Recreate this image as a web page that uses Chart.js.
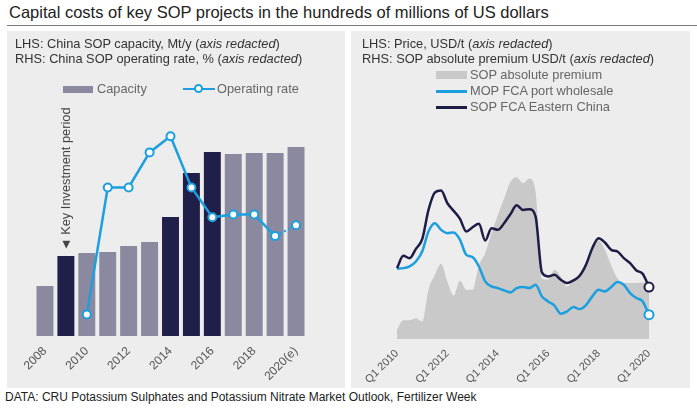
<!DOCTYPE html>
<html>
<head>
<meta charset="utf-8">
<title>SOP capacity and prices</title>
<script src="https://cdn.jsdelivr.net/npm/chart.js@4.4.0/dist/chart.umd.min.js"></script>
<style>
  body { margin: 0; width: 697px; height: 409px; background: #fff; position: relative; overflow: hidden;
         font-family: "Liberation Sans", Arial, sans-serif; }
  .title { position: absolute; left: 9px; top: 2px; font-size: 16.5px; line-height: 20px; color: #222; white-space: nowrap; }
  .rule { position: absolute; left: 7px; right: 0; top: 25px; height: 1px; background: #7a7a7a; }
  .panel { position: absolute; top: 31px; height: 357px; background: #ededed; }
  #leftPanel { left: 7px; width: 338px; }
  #rightPanel { left: 351px; width: 339px; }
  .panel canvas { position: absolute; left: 0; top: 0; }
  .note { position: absolute; font-size: 12.8px; line-height: 15px; color: #333; white-space: nowrap; }
  .legend-text { position: absolute; font-size: 12.8px; line-height: 14px; color: #666; white-space: nowrap; }
  .swatch { position: absolute; }
  .dot { position: absolute; width: 5px; height: 5px; border-radius: 50%; background: #fff; border: 2px solid #1b9fdf; }
  #keyLabel { position: absolute; font-size: 12.8px; line-height: 14px; color: #444; white-space: nowrap;
              transform-origin: 0 0; transform: rotate(-90deg); }
  .footer { position: absolute; left: 5px; top: 390px; font-size: 12px; line-height: 14px; color: #222; white-space: nowrap; }
</style>
</head>
<body>
<div class="title">Capital costs of key SOP projects in the hundreds of millions of US dollars</div>
<div class="rule"></div>

<div class="panel" id="leftPanel">
  <canvas id="capacityChart" width="338" height="357"></canvas>
  <div class="note" style="left:8px; top:5px;">LHS: China SOP capacity, Mt/y (<i>axis redacted</i>)<br>RHS: China SOP operating rate, % (<i>axis redacted</i>)</div>
  <div class="swatch" style="left:56px; top:55px; width:30px; height:7px; background:#8a89a0;"></div>
  <div class="legend-text" style="left:90px; top:51px;">Capacity</div>
  <div class="swatch" style="left:176px; top:57px; width:32px; height:2px; background:#1b9fdf;"></div>
  <div class="dot" style="left:187px; top:53px;"></div>
  <div class="legend-text" style="left:210px; top:51px;">Operating rate</div>
  <div id="keyLabel">&#9668; Key Investment period</div>
</div>

<div class="panel" id="rightPanel">
  <canvas id="priceChart" width="339" height="357"></canvas>
  <div class="note" style="left:11px; top:5px;">LHS: Price, USD/t (<i>axis redacted</i>)<br>RHS: SOP absolute premium USD/t (<i>axis redacted</i>)</div>
  <div class="swatch" style="left:85px; top:40px; width:31px; height:8px; background:#c9c9c9;"></div>
  <div class="legend-text" style="left:119px; top:37px;">SOP absolute premium</div>
  <div class="swatch" style="left:85px; top:59px; width:31px; height:2.5px; background:#1b9fdf;"></div>
  <div class="legend-text" style="left:119px; top:53px;">MOP FCA port wholesale</div>
  <div class="swatch" style="left:85px; top:75px; width:31px; height:2.5px; background:#1d1d45;"></div>
  <div class="legend-text" style="left:119px; top:69px;">SOP FCA Eastern China</div>
</div>

<div class="footer">DATA: CRU Potassium Sulphates and Potassium Nitrate Market Outlook, Fertilizer Week</div>

<script>
// Left panel data
const years = ['2008', '2009', '2010', '2011', '2012', '2013', '2014', '2015', '2016', '2017', '2018', '2019', '2020(e)'];
const yearTicks = ['2008', '2010', '2012', '2014', '2016', '2018', '2020(e)'];
const capacity = [2.5, 4.0, 4.15, 4.2, 4.5, 4.7, 5.95, 8.15, 9.2, 9.1, 9.15, 9.15, 9.45];
const keyPeriod = [false, true, false, false, false, false, true, true, true, false, false, false, false];
const operatingRate = [null, null, 28, 75, 75, 88, 94, 75, 64, 65, 65, 57, 61];

// Right panel data
const quarters = [
    'Q1 2010', 'Q2 2010', 'Q3 2010', 'Q4 2010', 'Q1 2011', 'Q2 2011', 'Q3 2011', 'Q4 2011',
    'Q1 2012', 'Q2 2012', 'Q3 2012', 'Q4 2012', 'Q1 2013', 'Q2 2013', 'Q3 2013', 'Q4 2013',
    'Q1 2014', 'Q2 2014', 'Q3 2014', 'Q4 2014', 'Q1 2015', 'Q2 2015', 'Q3 2015', 'Q4 2015',
    'Q1 2016', 'Q2 2016', 'Q3 2016', 'Q4 2016', 'Q1 2017', 'Q2 2017', 'Q3 2017', 'Q4 2017',
    'Q1 2018', 'Q2 2018', 'Q3 2018', 'Q4 2018', 'Q1 2019', 'Q2 2019', 'Q3 2019', 'Q4 2019',
    'Q1 2020'
];
const quarterTicks = ['Q1 2010', 'Q1 2012', 'Q1 2014', 'Q1 2016', 'Q1 2018', 'Q1 2020'];
const sopPrice = [345, 382, 375, 403, 432, 520, 572, 578, 540, 517, 493, 455, 468, 478, 428, 465,
    460, 480, 507, 534, 520, 522, 500, 332, 320, 325, 310, 300, 308, 322, 355, 405,
    435, 422, 400, 395, 375, 360, 338, 328, 288];
const mopPrice = [343, 345, 350, 365, 395, 455, 480, 460, 450, 452, 430, 385, 378, 350, 305, 290,
    285, 278, 272, 285, 288, 285, 295, 260, 245, 232, 208, 215, 228, 222, 234, 260,
    280, 275, 288, 303, 295, 270, 255, 245, 205];
const sopPremium = [14, 28, 28, 31, 26, 74, 96, 113, 86, 65, 88, 74, 74, 111, 129, 159,
    186, 211, 236, 243, 234, 241, 221, 91, 89, 104, 94, 79, 89, 99, 116, 134,
    148, 134, 111, 91, 84, 84, 84, 85, 85];

const lightBar = '#8a89a0';
const darkBar = '#1f1f4a';
const blue = '#1b9fdf';
const navy = '#1d1d45';
const tickColor = '#555';

// Place the rotated "Key Investment period" note above the 2009 bar
const keyLabelPlugin = {
    id: 'keyLabel',
    afterDraw(chart) {
        const el = document.getElementById('keyLabel');
        const x = chart.scales.x.getPixelForValue(1);
        const y = chart.scales.y.getPixelForValue(capacity[1]);
        el.style.left = (x - el.offsetHeight / 2) + 'px';
        el.style.top = (y - 5) + 'px';
    }
};

new Chart(document.getElementById('capacityChart'), {
    data: {
        labels: years,
        datasets: [{
            type: 'line',
            label: 'Operating rate',
            data: operatingRate,
            yAxisID: 'y1',
            borderColor: blue,
            borderWidth: 2.5,
            tension: 0,
            pointRadius: 4,
            pointBorderWidth: 2,
            pointBackgroundColor: '#fff',
            pointBorderColor: blue,
            clip: false,
            order: 0,
            segment: {
                borderDash: ctx => ctx.p1DataIndex === years.length - 1 ? [2, 3] : undefined
            }
        }, {
            type: 'bar',
            label: 'Capacity',
            data: capacity,
            yAxisID: 'y',
            backgroundColor: keyPeriod.map(k => k ? darkBar : lightBar),
            barPercentage: 0.81,
            categoryPercentage: 1,
            order: 1
        }]
    },
    options: {
        responsive: false,
        animation: false,
        events: [],
        layout: { padding: { top: 89, left: 27.5, right: 38.5, bottom: 0 } },
        plugins: {
            legend: { display: false },
            tooltip: { enabled: false }
        },
        scales: {
            x: {
                offset: true,
                grid: { display: false, drawTicks: false },
                border: { display: false },
                ticks: {
                    color: tickColor,
                    font: { family: 'Liberation Sans', size: 12 },
                    autoSkip: false,
                    minRotation: 45,
                    maxRotation: 45,
                    padding: 8,
                    callback: (value, index) => yearTicks.includes(years[index]) ? years[index] : ''
                },
                afterFit: scale => { scale.height = 52; }
            },
            y: { display: false, min: 0, max: 10.8 },
            y1: { display: false, min: 20, max: 100 }
        }
    },
    plugins: [keyLabelPlugin]
});

const lastPointOnly = ctx => ctx.dataIndex === quarters.length - 1 ? 4.5 : 0;

new Chart(document.getElementById('priceChart'), {
    type: 'line',
    data: {
        labels: quarters,
        datasets: [{
            label: 'SOP FCA Eastern China',
            data: sopPrice,
            yAxisID: 'y',
            borderColor: navy,
            borderWidth: 2.5,
            cubicInterpolationMode: 'monotone',
            pointRadius: lastPointOnly,
            pointBorderWidth: 2,
            pointBackgroundColor: '#fff',
            pointBorderColor: navy,
            fill: false,
            clip: false,
            order: 1
        }, {
            label: 'MOP FCA port wholesale',
            data: mopPrice,
            yAxisID: 'y',
            borderColor: blue,
            borderWidth: 2.5,
            cubicInterpolationMode: 'monotone',
            pointRadius: lastPointOnly,
            pointBorderWidth: 2,
            pointBackgroundColor: '#fff',
            pointBorderColor: blue,
            fill: false,
            clip: false,
            order: 2
        }, {
            label: 'SOP absolute premium',
            data: sopPremium,
            yAxisID: 'y2',
            borderWidth: 0,
            backgroundColor: '#c9c9c9',
            cubicInterpolationMode: 'monotone',
            pointRadius: 0,
            fill: 'start',
            order: 3
        }]
    },
    options: {
        responsive: false,
        animation: false,
        events: [],
        layout: { padding: { top: 119, left: 46, right: 41, bottom: 0 } },
        plugins: {
            legend: { display: false },
            tooltip: { enabled: false }
        },
        scales: {
            x: {
                grid: { display: false, drawTicks: false },
                border: { display: false },
                ticks: {
                    color: tickColor,
                    font: { family: 'Liberation Sans', size: 11 },
                    autoSkip: false,
                    minRotation: 45,
                    maxRotation: 45,
                    padding: 8,
                    callback: (value, index) => quarterTicks.includes(quarters[index]) ? quarters[index] : ''
                },
                afterFit: scale => { scale.height = 49; }
            },
            y: { display: false, min: 132, max: 700 },
            y2: { display: false, min: 0, max: 284 }
        }
    }
});
</script>
</body>
</html>
